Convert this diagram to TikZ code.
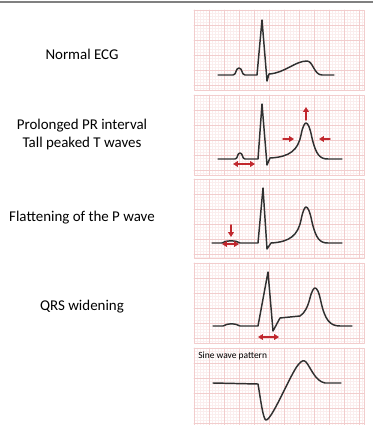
\documentclass[tikz,border=0pt]{standalone}
\usepackage{fontspec}
\setmainfont{Carlito}
\usetikzlibrary{arrows.meta}
\definecolor{ecgred}{HTML}{C1272D}
\definecolor{gridmajor}{HTML}{F2CDCD}
\definecolor{gridminor}{HTML}{FBEEEE}
\definecolor{trace}{HTML}{303030}
\begin{document}
\begin{tikzpicture}[x=.75pt, y=-.75pt, line cap=round, line join=round,
  every node/.style={font=\fontsize{11.2}{13.5}\selectfont},
  ecg/.style={trace, line width=1.1pt},
  redarrow/.style={ecgred, line width=1.1pt, -{Triangle[length=3.6pt,width=4.2pt]}},
  redboth/.style={ecgred, line width=1.1pt, {Triangle[length=3.6pt,width=4.2pt]}-{Triangle[length=3.6pt,width=4.2pt]}}]
  \useasboundingbox (0,0) rectangle (373,425);
  \draw[gray, line width=1pt] (0,2) -- (373,2);

  % paper strips
  \foreach \t/\b in {10/90, 95/175, 179/258, 263/343, 348/428} {
    \pgfmathtruncatemacro{\tt}{\t+3}
    \pgfmathtruncatemacro{\tm}{\t+15}
    \foreach \gx in {194,197,...,364} \draw[gridminor, line width=.3pt] (\gx,\t) -- (\gx,\b);
    \foreach \gy in {\t,\tt,...,\b} \draw[gridminor, line width=.3pt] (194,\gy) -- (364,\gy);
    \foreach \gx in {194,209,...,364} \draw[gridmajor, line width=.45pt] (\gx,\t) -- (\gx,\b);
    \foreach \gy in {\t,\tm,...,\b} \draw[gridmajor, line width=.45pt] (194,\gy) -- (364,\gy);
    \draw[gridmajor, line width=.6pt] (194,\t) rectangle (364,\b);
  }

  % labels
  \node (normal) at (82,54) {Normal ECG};
  \node[align=center] (prolonged) at (82,135) {Prolonged PR interval\\Tall peaked T waves};
  \node (flatp) at (82,218) {Flattening of the P wave};
  \node (qrs) at (82,307) {QRS widening};
  \node[anchor=west, font=\fontsize{7.1}{8}\selectfont, inner sep=0pt] (sine) at (198,356) {Sine wave pattern};

  % traces
  \draw[ecg] (218,75) -- (233,75) to[out=0,in=180] (239,68) to[out=0,in=180] (245,75) -- (257,75)
    -- (262,20) -- (267,81) -- (269,74) .. controls (285,73) and (295,61) .. (307,61)
    .. controls (313,61) and (314,75) .. (322,75) -- (334,75);
  \draw[ecg] (218,159) -- (235,159) to[out=0,in=180] (240,153) to[out=0,in=180] (245,159) -- (258,159)
    -- (262,104) -- (267,165) -- (270,158) .. controls (290,157) and (298,150) .. (301,135)
    .. controls (303,125) and (305,123) .. (306,123) .. controls (308,123) and (310,128) .. (312,138)
    .. controls (316,155) and (320,159) .. (328,159) -- (342,159);
  \draw[ecg] (212,243) -- (222,243) .. controls (226,240) and (236,240) .. (240,243) -- (258,243)
    -- (263,188) -- (267,249) -- (271,243) .. controls (290,242) and (298,235) .. (301,220)
    .. controls (303,210) and (305,207) .. (306,207) .. controls (308,207) and (310,212) .. (312,222)
    .. controls (316,239) and (320,243) .. (328,243) -- (342,243);
  \draw[ecg] (213,326) -- (223,326) .. controls (228,323) and (235,323) .. (240,326) -- (258,326)
    -- (268,272) -- (273,331) -- (280,318) -- (300,316) .. controls (305,313) and (308,306) .. (310,298)
    .. controls (312,290) and (314,288) .. (315,288) .. controls (317,288) and (319,292) .. (321,302)
    .. controls (325,320) and (330,326) .. (340,326) -- (352,326);
  \draw[ecg] (213,383) -- (258,384) .. controls (260,395) and (263,420) .. (266,420)
    .. controls (272,420) and (290,375) .. (298,365) .. controls (302,360) and (304,360) .. (306,362)
    .. controls (311,368) and (315,381) .. (325,383) -- (341,383);

  % markers
  \coordinate (pr1) at (233,164);
  \coordinate (pr2) at (255,164);
  \coordinate (tup1) at (306,120);
  \coordinate (tup2) at (306,107);
  \coordinate (tl1) at (283,139);
  \coordinate (tl2) at (294,139);
  \coordinate (tr1) at (330,139);
  \coordinate (tr2) at (319,139);
  \coordinate (pd1) at (231,225);
  \coordinate (pd2) at (231,237);
  \coordinate (pw1) at (222,244);
  \coordinate (pw2) at (239,244);
  \coordinate (qw1) at (258,337);
  \coordinate (qw2) at (279,337);
  \draw[redboth] (pr1) -- (pr2);
  \draw[redarrow] (tup1) -- (tup2);
  \draw[redarrow] (tl1) -- (tl2);
  \draw[redarrow] (tr1) -- (tr2);
  \draw[redarrow] (pd1) -- (pd2);
  \draw[redboth] (pw1) -- (pw2);
  \draw[redboth] (qw1) -- (qw2);
\end{tikzpicture}
\end{document}
